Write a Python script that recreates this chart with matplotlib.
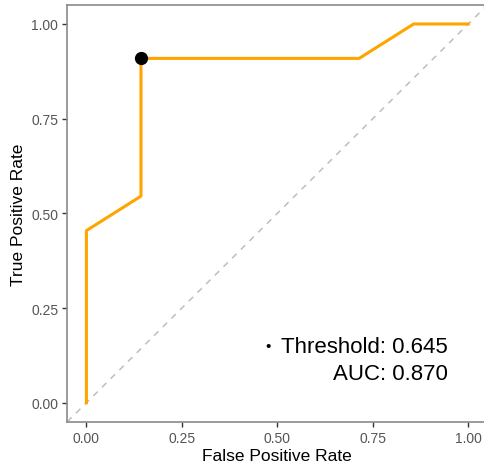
import matplotlib
matplotlib.use('Agg')
from matplotlib import pyplot

pyplot.rcParams['font.family'] = ['Liberation Sans', 'DejaVu Sans']

# ROC curve points
fpr = [0.0, 0.0, 0.1429, 0.1429, 0.7143, 0.8571, 1.0]
tpr = [0.0, 0.4545, 0.5455, 0.9091, 0.9091, 1.0, 1.0]
best_fpr = 0.1429
best_tpr = 0.9091
threshold = 0.645
auc = 0.870
ticks = [0.0, 0.25, 0.5, 0.75, 1.0]
tick_labels = ['0.00', '0.25', '0.50', '0.75', '1.00']

fig = pyplot.figure(figsize=(4.85, 4.64), dpi=100)
ax = fig.add_axes([0.1388, 0.089, 0.866, 0.898])

lo, hi = -0.05, 1.05
ax.plot([lo, hi], [lo, hi], linestyle=(0, (4, 4)), color='#bebebe', linewidth=1.1, zorder=1)
ax.plot(fpr, tpr, color='#ffa500', linewidth=2.2, zorder=2)
ax.plot(best_fpr, best_tpr, 'o', color='black', markersize=8.5, zorder=3)

# annotation: small bullet, then right-aligned text lines
text_x = 0.947
ax.text(text_x - 0.465, 0.149, '\u2022', ha='right', va='center', fontsize=11, color='black')
ax.text(text_x, 0.149, 'Threshold: {:.3f}'.format(threshold), ha='right', va='center',
        fontsize=16, color='black')
ax.text(text_x, 0.077, 'AUC: {:.3f}'.format(auc), ha='right', va='center',
        fontsize=16, color='black')

ax.set_xlim(lo, hi)
ax.set_ylim(lo, hi)
ax.set_xticks(ticks)
ax.set_xticklabels(tick_labels)
ax.set_yticks(ticks)
ax.set_yticklabels(tick_labels)
ax.tick_params(labelsize=10, labelcolor='#555555', color='#333333', length=3.5, width=1, pad=3)

for s in ax.spines.values():
    s.set_color('#8a8a8a')
    s.set_linewidth(1.2)

ax.set_xlabel('False Positive Rate', fontsize=12.5, labelpad=2)
ax.set_ylabel('True Positive Rate', fontsize=12.5, labelpad=4)

fig.savefig('out.png', dpi=100)
